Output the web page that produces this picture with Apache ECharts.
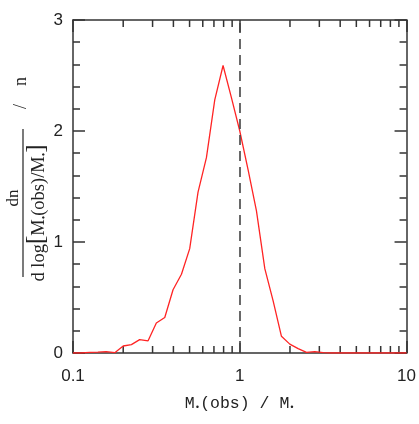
<!DOCTYPE html>
<html>
<head>
<meta charset="utf-8">
<script src="https://cdn.jsdelivr.net/npm/echarts@6/dist/echarts.min.js"></script>
<style>
html,body{margin:0;padding:0;background:#fff;}
#chart{width:419px;height:424px;}
</style>
</head>
<body>
<div id="chart"></div>
<script>
// Data
const massRatio = [0.100, 0.112, 0.126, 0.141, 0.158, 0.178, 0.200, 0.224, 0.251, 0.282,
  0.316, 0.355, 0.398, 0.447, 0.501, 0.562, 0.631, 0.708, 0.794, 0.891,
  1.000, 1.122, 1.259, 1.413, 1.585, 1.778, 1.995, 2.239, 2.512, 2.818,
  3.162, 3.548, 3.981, 4.467, 5.012, 5.623, 6.310, 7.079, 7.943, 8.913, 10.0];
const dnValues = [0, 0, 0.005, 0.008, 0.012, 0.003, 0.063, 0.075, 0.12, 0.11,
  0.27, 0.32, 0.57, 0.71, 0.94, 1.45, 1.76, 2.28, 2.59, 2.30,
  2.00, 1.65, 1.28, 0.76, 0.47, 0.15, 0.08, 0.04, 0.005, 0.012,
  0.003, 0, 0, 0, 0, 0, 0, 0, 0, 0, 0];
const xMinorTicks = [0.2, 0.3, 0.4, 0.5, 0.6, 0.7, 0.8, 0.9, 2, 3, 4, 5, 6, 7, 8, 9];
const xTickLabels = {0.1: '0.1', 1: '1', 10: '10'};
const referenceX = 1;

const axisColor = '#333';
const chart = echarts.init(document.getElementById('chart'), null, {renderer: 'canvas'});

const serif = 'Liberation Serif';
const mono = 'Liberation Mono';
const sans = 'Liberation Sans';

const commonX = {
  type: 'log', logBase: 10, min: 0.1, max: 10,
  axisLine: {show: true, onZero: false, lineStyle: {color: axisColor, width: 1.5}},
  axisTick: {show: true, inside: true, length: 12, lineStyle: {color: axisColor, width: 1.5}},
  splitLine: {show: false}
};
const commonY = {
  type: 'value', min: 0, max: 3, interval: 1,
  axisLine: {show: true, onZero: false, lineStyle: {color: axisColor, width: 1.5}},
  axisTick: {show: true, inside: true, length: 12, lineStyle: {color: axisColor, width: 1.5}},
  minorTick: {show: true, splitNumber: 5, length: 7, lineStyle: {color: axisColor, width: 1.5}},
  splitLine: {show: false}
};

chart.setOption({
  animation: false,
  backgroundColor: '#fff',
  grid: {left: 73, right: 11, top: 20, bottom: 71, containLabel: false},
  xAxis: [
    Object.assign({}, commonX, {
      position: 'bottom',
      name: '{t|M}{s|•}{t|(obs) / M}{s|•}',
      nameLocation: 'middle', nameGap: 41,
      nameTextStyle: {
        fontFamily: mono, fontSize: 16, color: '#222',
        rich: {
          t: {fontFamily: mono, fontSize: 16.5, color: '#222', lineHeight: 18, verticalAlign: 'bottom'},
          s: {fontFamily: mono, fontSize: 9, color: '#222', lineHeight: 18, verticalAlign: 'bottom'}
        }
      },
      axisLabel: {
        show: true, margin: 15, fontFamily: sans, fontSize: 17, color: '#222',
        formatter: v => xTickLabels[v] !== undefined ? xTickLabels[v] : ''
      }
    }),
    Object.assign({}, commonX, {position: 'top', axisLabel: {show: false}})
  ],
  yAxis: [
    Object.assign({}, commonY, {
      position: 'left',
      axisLabel: {show: true, margin: 10, fontFamily: sans, fontSize: 17, color: '#222'}
    }),
    Object.assign({}, commonY, {position: 'right', axisLabel: {show: false}})
  ],
  series: [
    {
      type: 'line',
      xAxisIndex: 0, yAxisIndex: 0,
      data: massRatio.map((x, i) => [x, dnValues[i]]),
      showSymbol: false, symbol: 'none',
      lineStyle: {color: '#ff2424', width: 1.3},
      markLine: {
        silent: true, symbol: 'none',
        label: {show: false},
        lineStyle: {color: '#444', type: [10, 6], width: 1.6},
        data: [{xAxis: referenceX}]
      }
    },
    {
      type: 'custom',
      xAxisIndex: 0, yAxisIndex: 0,
      data: xMinorTicks.map(v => [v, 0]),
      clip: false, silent: true,
      renderItem: function (params, api) {
        const v = api.value(0);
        const b = api.coord([v, 0]);
        const t = api.coord([v, 3]);
        const st = {stroke: axisColor, lineWidth: 1.5};
        return {
          type: 'group',
          children: [
            {type: 'line', shape: {x1: b[0], y1: b[1], x2: b[0], y2: b[1] - 7}, style: st},
            {type: 'line', shape: {x1: t[0], y1: t[1], x2: t[0], y2: t[1] + 7}, style: st}
          ]
        };
      }
    }
  ],
  graphic: [
    {
      type: 'text', x: 14, y: 198, rotation: Math.PI / 2,
      style: {text: 'dn', fontFamily: serif, fontSize: 17, fill: '#222', align: 'center', verticalAlign: 'middle'}
    },
    {
      type: 'line', shape: {x1: 23, y1: 129, x2: 23, y2: 277},
      style: {stroke: '#222', lineWidth: 1.2}
    },
    {
      type: 'text', x: 37, y: 213, rotation: Math.PI / 2,
      style: {
        text: '{t|d log}{b|[}{t|M}{s|•}{t|(obs)/M}{s|•}{b|]}',
        align: 'center', verticalAlign: 'middle',
        rich: {
          t: {fontFamily: serif, fontSize: 18.5, fill: '#222', lineHeight: 24, verticalAlign: 'bottom'},
          b: {fontFamily: serif, fontSize: 25, fill: '#222', lineHeight: 24, verticalAlign: 'bottom'},
          s: {fontFamily: serif, fontSize: 10, fill: '#222', lineHeight: 24, verticalAlign: 'bottom'}
        }
      }
    },
    {
      type: 'text', x: 21, y: 93, rotation: Math.PI / 2,
      style: {text: '/    n', fontFamily: serif, fontSize: 18, fill: '#222', align: 'center', verticalAlign: 'middle'}
    }
  ]
});
</script>
</body>
</html>
